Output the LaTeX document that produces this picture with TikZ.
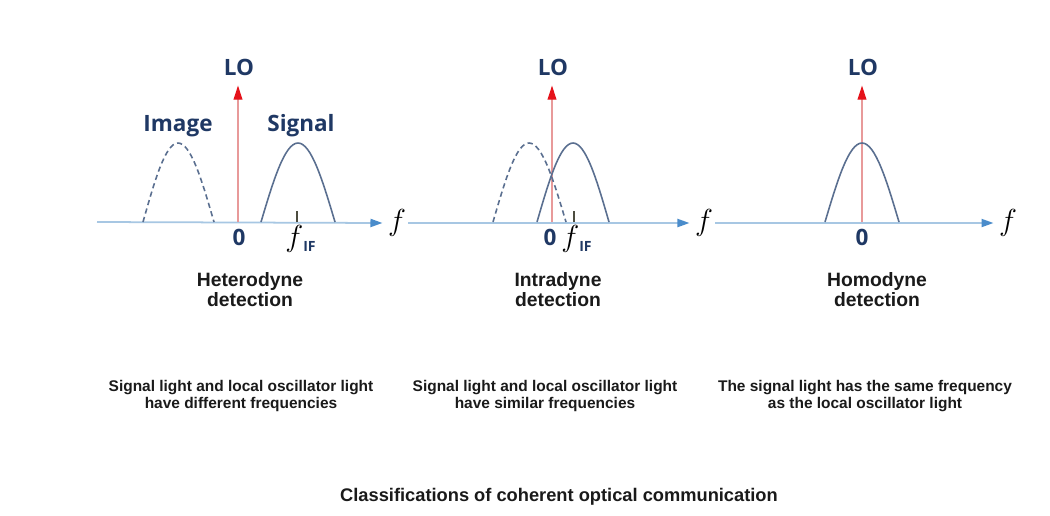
\documentclass[tikz,border=0pt]{standalone}
\usepackage{fontspec}
\setmainfont{Liberation Sans}
\newfontfamily\labelfont{Open Sans}
\usetikzlibrary{arrows.meta}

\definecolor{navy}{HTML}{1F3864}
\definecolor{curveblue}{HTML}{5A6F90}
\definecolor{axisblue}{HTML}{A7C7E3}
\definecolor{tipblue}{HTML}{4A8CCB}
\definecolor{lopink}{HTML}{E89A9A}
\definecolor{lored}{HTML}{E5121A}
\definecolor{tickgray}{HTML}{4D4D40}
\definecolor{textdark}{HTML}{1A1A1A}

\begin{document}
\begin{tikzpicture}[
  x=0.02cm, y=-0.02cm,
  lbl/.style={
    font=\labelfont\bfseries\fontsize{12.8}{13}\selectfont, text=navy, inner sep=0pt
  },
  freq/.style={font=\fontsize{16}{16}\selectfont, inner sep=1pt},
  fif/.style={font=\fontsize{16}{16}\selectfont, inner sep=0pt, anchor=north west},
  head/.style={
    font=\bfseries\fontsize{11}{11.3}\selectfont, align=center, text=textdark
  },
  desc/.style={
    font=\bfseries\fontsize{8.8}{9.6}\selectfont, align=center, text=textdark
  },
  axis/.style={
    -{Triangle[length=6.8pt,width=4.6pt,color=tipblue]}, line width=1pt, draw=axisblue,
    shorten >=2pt
  },
  loarrow/.style={
    -{Triangle[length=8pt,width=5pt,color=lored]}, line width=0.7pt, draw=lopink
  },
  sig/.style={line width=0.9pt, draw=curveblue},
  img/.style={sig, dash pattern=on 3pt off 2pt},
  tick/.style={line width=0.9pt, draw=tickgray}
]
\useasboundingbox[fill=white] (0,0) rectangle (1050,515);

% Frequency axis (three panels)
\coordinate (ax) at (97,222);
\node[freq] (f1) at (397,223) {$f$};
\node[freq] (f2) at (704,223) {$f$};
\node[freq] (f3) at (1008,223) {$f$};
\draw[axis] (ax) -- (f1.west);
\draw[axis] (f1.east) -- (f2.west);
\draw[axis] (f2.east) -- (f3.west);

% Panel 1: Heterodyne
\coordinate (o1) at (238,222);
\node[lbl, anchor=base] (lo1) at (239,75) {LO};
\draw[loarrow] (o1) -- ([xshift=-0.02cm, yshift=-0.2cm]lo1.south);
\draw[img] (143,222) sin (178,143) cos (214,222);
\draw[sig] (261,222) sin (298,143) cos (335,222);
\node[lbl, anchor=base] (image) at (178,131) {Image};
\node[lbl, anchor=base] (signal) at (301,131) {Signal};
\coordinate (t1) at (297,222);
\draw[tick] (t1) -- ++(0,-11);
\node[lbl, anchor=base] (z1) at (239,245) {0};
\node[fif] (fif1) at (285,225) {$f$\raisebox{-0.35ex}{\labelfont\bfseries\fontsize{8}{8}\selectfont\color{navy} IF}};
\node[head] (het) at (250,290) {Heterodyne\\detection};
\node[desc] (hetdesc) at (241,396) {Signal light and local oscillator light\\have different frequencies};

% Panel 2: Intradyne
\coordinate (o2) at (552,222);
\node[lbl, anchor=base] (lo2) at (553,75) {LO};
\draw[loarrow] (o2) -- ([xshift=-0.02cm, yshift=-0.2cm]lo2.south);
\draw[img] (493,222) sin (529,143) cos (566,222);
\draw[sig] (537,222) sin (573,143) cos (609,222);
\coordinate (t2) at (574,222);
\draw[tick] (t2) -- ++(0,-11);
\node[lbl, anchor=base] (z2) at (550,245) {0};
\node[fif] (fif2) at (561,225) {$f$\raisebox{-0.35ex}{\labelfont\bfseries\fontsize{8}{8}\selectfont\color{navy} IF}};
\node[head] (intra) at (558,290) {Intradyne\\detection};
\node[desc] (intradesc) at (545,396) {Signal light and local oscillator light\\have similar frequencies};

% Panel 3: Homodyne
\coordinate (o3) at (862,222);
\node[lbl, anchor=base] (lo3) at (863,75) {LO};
\draw[loarrow] (o3) -- ([xshift=-0.02cm, yshift=-0.2cm]lo3.south);
\draw[sig] (825,222) sin (862,143) cos (899,222);
\node[lbl, anchor=base] (z3) at (862,245) {0};
\node[head] (homo) at (877,290) {Homodyne\\detection};
\node[desc] (homodesc) at (865,396) {The signal light has the same frequency\\as the local oscillator light};

% Caption
\node[font=\bfseries\fontsize{10.4}{11}\selectfont, text=textdark] (caption) at (559,497) {Classifications of coherent optical communication};

\end{tikzpicture}
\end{document}
